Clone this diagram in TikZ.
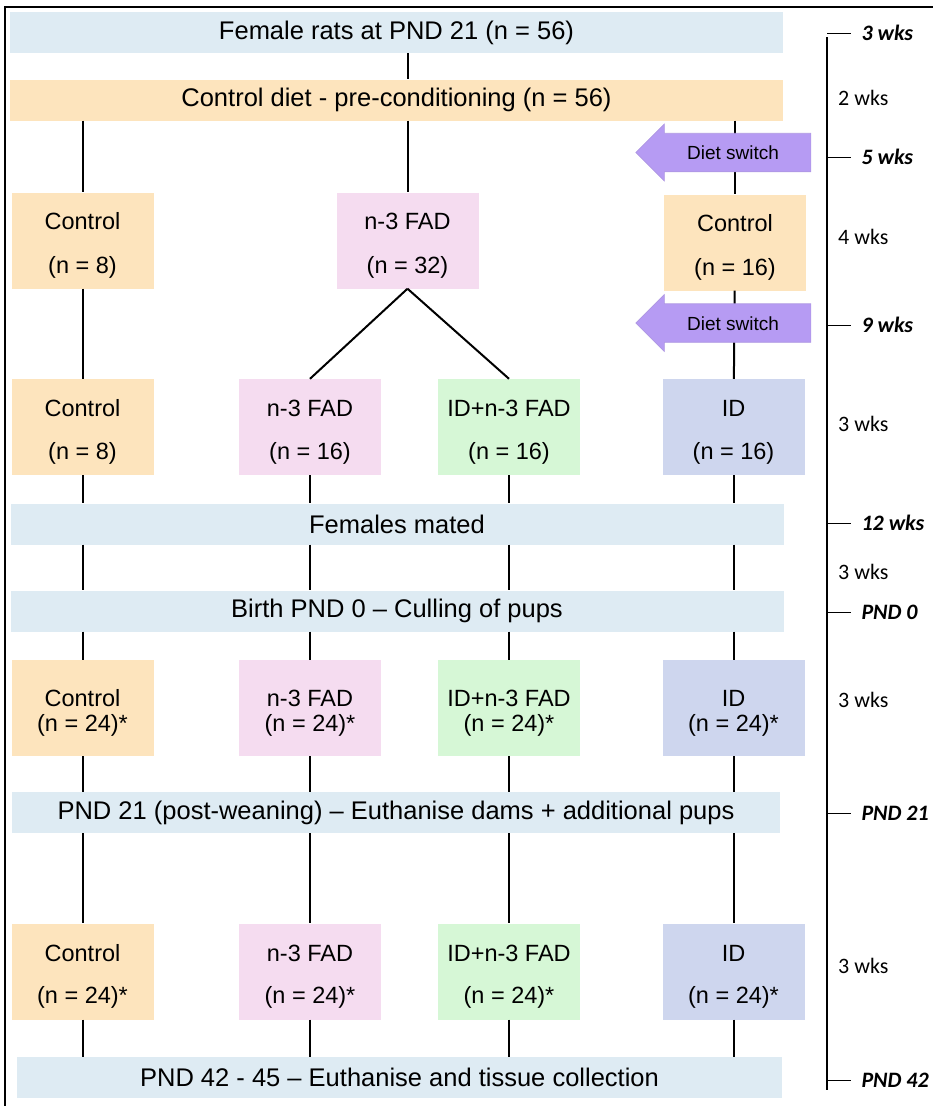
\documentclass[tikz,border=0pt]{standalone}
\usepackage{fontspec}
\setmainfont{Liberation Sans}
\newfontfamily\wksfont{Carlito}
\usetikzlibrary{shapes.arrows}

\definecolor{bandblue}{HTML}{DEEBF3}
\definecolor{ctlorange}{HTML}{FDE4BD}
\definecolor{fadpink}{HTML}{F5DCF0}
\definecolor{idgreen}{HTML}{D6F7D6}
\definecolor{idblue}{HTML}{CED6EE}
\definecolor{switchpurple}{HTML}{B69BF3}

\newcommand{\lowtext}{\rule{0pt}{26pt}}

\tikzset{
  band/.style={fill=bandblue, minimum width=773pt, minimum height=41pt, inner sep=0pt,
    font=\fontsize{25.5}{30}\selectfont},
  grp/.style={minimum width=142pt, minimum height=96pt, inner sep=0pt, align=center,
    font=\fontsize{23.5}{27}\selectfont},
  ctl/.style={grp, fill=ctlorange},
  fad/.style={grp, fill=fadpink},
  idfad/.style={grp, fill=idgreen},
  iddiet/.style={grp, fill=idblue},
  dietswitch/.style={single arrow, shape border rotate=180, fill=switchpurple,
    draw=switchpurple!85!gray, line width=0.6pt, minimum height=175pt, minimum width=57pt,
    single arrow tip angle=90, text height=14pt, text depth=0pt, inner ysep=7.5pt,
    inner xsep=2pt, font=\fontsize{19}{22}\selectfont},
  link/.style={line width=2pt},
  timeline/.style={line width=1.3pt},
  wkmark/.style={line width=1pt},
}

\begin{document}
\begin{tikzpicture}[x=1pt, y=-1pt]
  \useasboundingbox (0,0) rectangle (933,1106);
  \draw[line width=2pt] (5,1110) -- (5,7) -- (935,7);

  % bands across all groups
  \node[band] (rats) at (396.5,32.5) {Female rats at PND 21 (n = 56)};
  \node[band, fill=ctlorange] (pre) at (396.5,100) {Control diet - pre-conditioning (n = 56)};
  \node[band] (mated) at (397,524) {Females mated};
  \node[band] (birth) at (397,611) {Birth PND 0 -- Culling of pups};
  \node[band, minimum width=768pt] (wean) at (396,812.5) {PND 21 (post-weaning) -- Euthanise dams + additional pups};
  \node[band, minimum width=765pt] (tissue) at (399.5,1077.5) {PND 42 - 45 -- Euthanise and tissue collection};

  % first diet groups
  \node[ctl] (c1a) at (82.5,240.5) {\lowtext Control\\[17pt](n = 8)};
  \node[fad] (f1) at (407.5,240.5) {\lowtext n-3 FAD\\[17pt](n = 32)};
  \node[ctl] (c1d) at (735,242.5) {\lowtext Control\\[17pt](n = 16)};

  % four groups per stage
  \foreach \x/\c/\sty/\lab/\n in {82.5/a/ctl/Control/8, 310/b/fad/n-3 FAD/16,
                                  509/c/idfad/ID+n-3 FAD/16, 733.5/d/iddiet/ID/16} {
    \node[\sty] (g2\c) at (\x,427) {\lowtext\lab\\[16pt](n = \n)};
    \node[\sty] (g3\c) at (\x,708) {\lowtext\lab\\[-2pt](n = 24)*};
    \node[\sty] (g4\c) at (\x,971.5) {\lowtext\lab\\[15pt](n = 24)*};
  }

  \draw[link] (f1 |- rats.south) -- (f1 |- pre.north);
  \draw[link] (pre.south -| c1a) -- (c1a);
  \draw[link] (pre.south -| f1) -- (f1);
  \draw[link] (pre.south -| c1d) -- (c1d);
  \draw[link] (f1.south) -- (g2b.north);
  \draw[link] (f1.south) -- (g2c.north);
  \draw[link] (c1a) -- (g2a);
  \draw[link] (c1d) -- (g2d);
  \foreach \c in {a,b,c,d} {
    \draw[link] (g2\c) -- (g2\c |- mated.north);
    \draw[link] (g2\c |- mated.south) -- (g2\c |- birth.north);
    \draw[link] (g2\c |- birth.south) -- (g3\c);
    \draw[link] (g3\c) -- (g3\c |- wean.north);
    \draw[link] (g3\c |- wean.south) -- (g4\c);
    \draw[link] (g4\c) -- (g4\c |- tissue.north);
  }

  \node[dietswitch] (sw1) at (733,152.5) {Diet switch};
  \node[dietswitch] (sw2) at (733,323) {Diet switch};

  % time line
  \coordinate (tltop) at (827,37);
  \coordinate (tlbot) at (827,1090);
  \draw[timeline] (tltop) -- (tlbot);
  \foreach \y/\lab in {33/3 wks, 157/5 wks, 325/9 wks, 523/12 wks,
                       612/PND 0, 813/PND 21, 1080/PND 42}
    \draw[wkmark] (827,\y) -- ++(24,0)
      node[right, inner xsep=10pt, font=\wksfont\bfseries\itshape\fontsize{22}{26}\selectfont] {\lab};
  \foreach \y/\lab in {98/2 wks, 237/4 wks, 424/3 wks, 572/3 wks, 700/3 wks, 966/3 wks}
    \node[right, inner xsep=0pt, font=\wksfont\fontsize{22}{26}\selectfont] at (838,\y) {\lab};
\end{tikzpicture}
\end{document}
